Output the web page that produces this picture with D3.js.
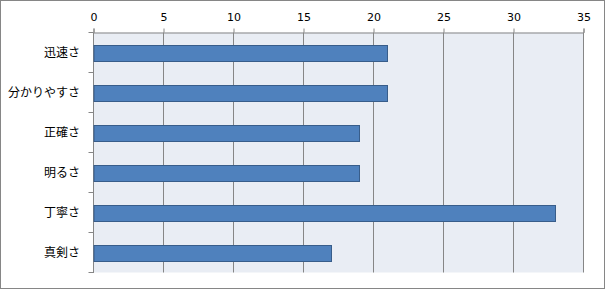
<!DOCTYPE html>
<html>
<head>
<meta charset="utf-8">
<script src="https://cdn.jsdelivr.net/npm/d3@7"></script>
<style>
  body { margin: 0; background: #fff; }
  svg text { fill: #000; }
</style>
</head>
<body>
<div class="chart"></div>
<script>
var categories = ['迅速さ', '分かりやすさ', '正確さ', '明るさ', '丁寧さ', '真剣さ'];
var values = [21, 21, 19, 19, 33, 17];
var xTicks = [0, 5, 10, 15, 20, 25, 30, 35];

var width = 606,
    height = 289;

var svg = d3.select('.chart').append('svg')
  .attr('width', width)
  .attr('height', height);

// outer frame
svg.append('rect')
  .attr('x', 0.5).attr('y', 0.5)
  .attr('width', 604).attr('height', 288)
  .attr('fill', '#fff')
  .attr('stroke', '#868686');

var x = d3.scaleLinear().domain([0, 35]).range([93.5, 583.5]);
var y = d3.scaleBand().domain(categories).range([32.5, 272.5]).paddingInner(0.6).paddingOuter(0.3);
var yBand = d3.scaleBand().domain(categories).range([32.5, 272.5]);

// plot background
svg.append('rect')
  .attr('x', x(0)).attr('y', yBand.range()[0])
  .attr('width', x(35) - x(0))
  .attr('height', yBand.range()[1] - yBand.range()[0])
  .attr('fill', '#e9edf4');

// vertical gridlines
svg.append('g').selectAll('line')
  .data(xTicks.slice(1))
  .enter().append('line')
  .attr('x1', function(d) { return x(d); })
  .attr('x2', function(d) { return x(d); })
  .attr('y1', yBand.range()[0])
  .attr('y2', yBand.range()[1])
  .attr('stroke', '#868686');

// top axis
var xAxis = svg.append('g')
  .attr('transform', 'translate(0,' + yBand.range()[0] + ')')
  .call(d3.axisTop(x).tickValues(xTicks).tickSize(4).tickPadding(8));
xAxis.select('.domain').attr('stroke', '#868686');
xAxis.selectAll('.tick line').attr('stroke', '#868686');
xAxis.selectAll('.tick text')
  .attr('font-family', '"DejaVu Sans", Verdana, sans-serif')
  .attr('font-size', 11)
  .attr('fill', '#000');

// left axis with ticks at band boundaries
var leftAxis = svg.append('g');
leftAxis.append('line')
  .attr('x1', x(0)).attr('x2', x(0))
  .attr('y1', yBand.range()[0]).attr('y2', yBand.range()[1] + 0.5)
  .attr('stroke', '#868686');
var bounds = categories.map(function(c) { return yBand(c); }).concat([yBand.range()[1]]);
leftAxis.selectAll('line.tk')
  .data(bounds)
  .enter().append('line')
  .attr('class', 'tk')
  .attr('x1', x(0) - 5).attr('x2', x(0))
  .attr('y1', function(d) { return d; })
  .attr('y2', function(d) { return d; })
  .attr('stroke', '#868686');

leftAxis.selectAll('text')
  .data(categories)
  .enter().append('text')
  .attr('x', 80)
  .attr('y', function(d) { return yBand(d) + yBand.bandwidth() / 2; })
  .attr('dy', '0.35em')
  .attr('text-anchor', 'end')
  .attr('font-family', '"Noto Sans CJK JP", sans-serif')
  .attr('font-size', 12)
  .text(function(d) { return d; });

// bars
svg.append('g').selectAll('rect')
  .data(values)
  .enter().append('rect')
  .attr('x', x(0) + 0.5)
  .attr('y', function(d, i) { return Math.round(y(categories[i])) + 0.5; })
  .attr('width', function(d) { return x(d) - x(0) - 0.5; })
  .attr('height', Math.round(y.bandwidth()))
  .attr('fill', '#4f81bd')
  .attr('stroke', '#385d8a');
</script>
</body>
</html>
